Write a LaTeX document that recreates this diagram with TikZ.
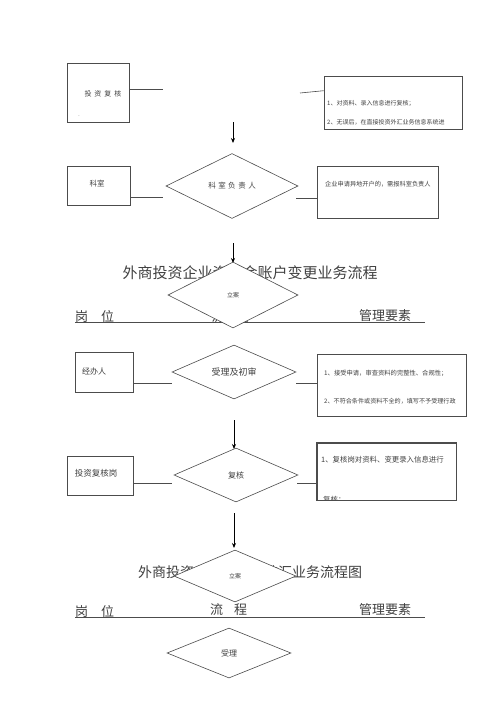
\documentclass[tikz,border=0pt]{standalone}
\usepackage{fontspec}
\setmainfont{Noto Sans CJK SC}
\usetikzlibrary{shapes.geometric,arrows.meta,calc}
\begin{document}
\begin{tikzpicture}[x=1pt,y=-1pt,
  lc/.style={draw=black!70,line width=0.6pt},
  box/.style={lc,rectangle,inner sep=0pt,fill=white},
  dia/.style={lc,diamond,inner sep=0pt,fill=white,text=black!75},
  txt/.style={inner sep=0pt,text=black!75,font=\fontsize{#1pt}{#1pt}\selectfont},
  conn/.style={lc},
  arr/.style={draw=black,line width=0.8pt,-{Stealth[length=5pt,width=4pt]}}]
\useasboundingbox[fill=white] (0,0) rectangle (500,707);

% ---------- block 1 ----------
\node[box,minimum width=62,minimum height=59] (b1) at (98,92.5) {};
\node[txt=7] (t1) at (103,94) {投\hspace{3pt}资\hspace{3pt}复\hspace{3pt}核};
\node[txt=5] (dot1) at (79,116) {.};
\coordinate (c1l) at (163,89);
\draw[conn] (b1.east |- c1l) -- (c1l);
\node[box,minimum width=138,minimum height=53] (r1) at (393,102.5) {};
\node[txt=6,anchor=west] (r1a) at (327,103) {1、对资料、录入信息进行复核；};
\node[txt=6,anchor=west] (r1b) at (327,122) {2、无误后，在直接投资外汇业务信息系统进};
\coordinate (c1r) at (300,93);
\draw[conn] (c1r) -- ($(r1.north west)+(0,15)$);
\coordinate (a1s) at (233,122);
\coordinate (a1e) at (233,143);
\draw[arr] (a1s) -- (a1e);

% ---------- block 2 ----------
\node[box,minimum width=63,minimum height=39] (b2) at (98.5,185.5) {};
\node[txt=7.5] (t2) at (97,184) {科室};
\node[dia,minimum width=132,minimum height=65,font=\fontsize{7.5pt}{7.5pt}\selectfont] (d2) at (232,186) {科\hspace{2.5pt}室\hspace{2.5pt}负\hspace{2.5pt}责\hspace{2.5pt}人};
\coordinate (c2l) at (163,197);
\draw[conn] (b2.east |- c2l) -- (c2l);
\node[box,minimum width=121,minimum height=52] (r2) at (377.5,192) {};
\node[txt=6.2,anchor=west] (r2a) at (325,184) {企业申请异地开户的，需报科室负责人};
\coordinate (c2r) at (296,198);
\draw[conn] (c2r) -- (r2.west |- c2r);
\coordinate (a2s) at (233,243);
\coordinate (a2e) at (233,263);
\draw[arr] (a2s) -- (a2e);

% ---------- title 1 ----------
\node[txt=15] (title1) at (250,273) {外商投资企业资本金账户变更业务流程};
\node[txt=13] (h1a) at (94.5,316) {岗\hspace{13pt}位};
\node[txt=13] (h1b) at (230,317) {流\hspace{11pt}程};
\node[txt=13] (h1c) at (385,316) {管理要素};
\coordinate (l1a) at (75,322);
\coordinate (l1b) at (425,322);
\draw[lc] (l1a) -- (l1b);
\node[dia,minimum width=130,minimum height=66,font=\fontsize{6pt}{6pt}\selectfont] (d3) at (233,295) {立案};

% ---------- block 4 ----------
\node[box,minimum width=58,minimum height=40] (b4) at (104,372) {};
\node[txt=8] (t4) at (94,371) {经办人};
\node[dia,minimum width=124,minimum height=54,font=\fontsize{9pt}{9pt}\selectfont] (d4) at (234,372) {受理及初审};
\coordinate (c4l) at (172,383);
\draw[conn] (b4.east |- c4l) -- (c4l);
\node[box,minimum width=149,minimum height=62] (r4) at (391.5,385) {};
\node[txt=6.3,anchor=west] (r4a) at (324,373) {1、接受申请，审查资料的完整性、合规性；};
\node[txt=6.1,anchor=west] (r4b) at (324,401) {2、不符合条件或资料不全的，填写不予受理行政};
\coordinate (c4r) at (296,383);
\draw[conn] (c4r) -- (r4.west |- c4r);
\coordinate (a3s) at (234,420);
\coordinate (a3e) at (234,449);
\draw[arr] (a3s) -- (a3e);

% ---------- block 5 ----------
\node[box,minimum width=66,minimum height=39] (b5) at (100,475.5) {};
\node[txt=8.5] (t5) at (96,473) {投资复核岗};
\node[dia,minimum width=124,minimum height=54,font=\fontsize{8pt}{8pt}\selectfont] (d5) at (236,475) {复核};
\coordinate (c5l) at (172,483);
\draw[conn] (b5.east |- c5l) -- (c5l);
\node[box,minimum width=139,minimum height=57] (r5) at (386.5,471.5) {};
\node[txt=7.4,anchor=west] (r5a) at (321,460) {1、复核岗对资料、变更录入信息进行};
\begin{scope}
  \clip (r5.south west) rectangle (r5.north east);
  \node[txt=7.4,anchor=west] (r5b) at (323,500) {复核；};
\end{scope}
\draw[lc] (r5.south west) rectangle (r5.north east);
\coordinate (c5r) at (297,483);
\draw[conn] (c5r) -- (r5.west |- c5r);
\coordinate (a4s) at (234,513);
\coordinate (a4e) at (234,548);
\draw[arr] (a4s) -- (a4e);

% ---------- title 2 ----------
\node[txt=14] (title2) at (250,572) {外商投资企业资本金结汇业务流程图};
\node[txt=13] (h2a) at (94.5,611) {岗\hspace{13pt}位};
\node[txt=13] (h2b) at (228.5,610) {流\hspace{11pt}程};
\node[txt=13] (h2c) at (385,610) {管理要素};
\coordinate (l2a) at (75,617);
\coordinate (l2b) at (425,617);
\draw[lc] (l2a) -- (l2b);
\node[dia,minimum width=122,minimum height=52,font=\fontsize{6pt}{6pt}\selectfont] (d6) at (235,576) {立案};

\node[dia,minimum width=124,minimum height=50,font=\fontsize{8pt}{8pt}\selectfont] (d7) at (229,653) {受理};
\end{tikzpicture}
\end{document}
